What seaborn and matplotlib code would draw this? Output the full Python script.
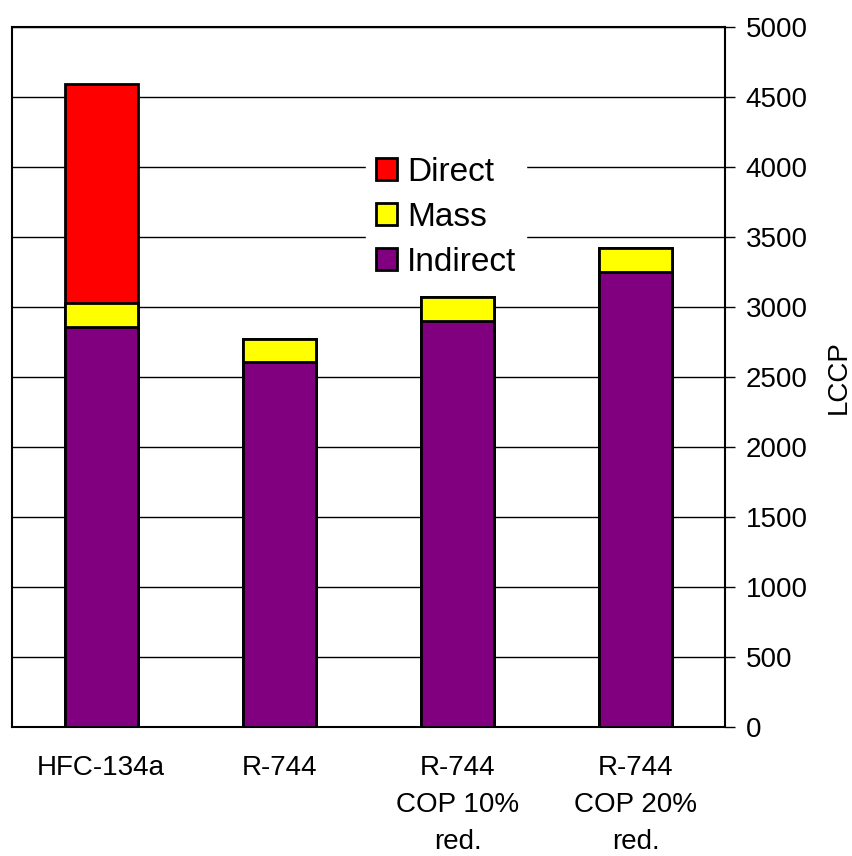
import matplotlib
matplotlib.use("Agg")
import matplotlib.pyplot as plt
import seaborn as sns
import pandas as pd
from matplotlib.patches import Patch

sns.set_style("white")
plt.rcParams["font.family"] = ["Liberation Sans", "DejaVu Sans"]
for k in ["text.color", "axes.labelcolor", "xtick.color", "ytick.color"]:
    plt.rcParams[k] = "black"

categories = ["HFC-134a", "R-744", "R-744\nCOP 10%\nred.", "R-744\nCOP 20%\nred."]
indirect = [2860, 2605, 2900, 3250]
mass = [167, 165, 170, 170]
direct = [1565, 0, 0, 0]

colors = {"Direct": "#FF0000", "Mass": "#FFFF00", "Indirect": "#800080"}

df = pd.DataFrame({"cat": categories, "Indirect": indirect, "Mass": mass, "Direct": direct})
df["lvl_mass"] = df["Indirect"] + df["Mass"]
df["lvl_direct"] = df["lvl_mass"] + df["Direct"]

fig = plt.figure(figsize=(8.52, 8.56), dpi=100)
ax = fig.add_axes([12 / 852, 1 - 727 / 856, (725 - 12) / 852, 700 / 856])

# stacked bars drawn back to front as cumulative totals
for col, name in [("lvl_direct", "Direct"), ("lvl_mass", "Mass"), ("Indirect", "Indirect")]:
    sns.barplot(data=df, x="cat", y=col, color=colors[name], saturation=1,
                width=0.41, edgecolor="black", linewidth=2, ax=ax, zorder=3)

ax.set_ylim(0, 5000)
ax.set_xlim(-0.5, 3.5)
ax.set_yticks(range(0, 5001, 500))
ax.yaxis.tick_right()
ax.yaxis.set_label_position("right")
ax.grid(axis="y", color="black", linewidth=1, zorder=0)
ax.set_axisbelow(True)
ax.set_ylabel("LCCP", fontsize=20, labelpad=13)
ax.set_xlabel("")
ax.tick_params(axis="y", direction="out", length=7, width=1, colors="black",
               labelsize=20, pad=8)

# category labels centered, ticks on category boundaries
ax.set_xticks(range(len(categories)))
ax.set_xticklabels(categories, fontsize=20, linespacing=1.55)
ax.tick_params(axis="x", length=0, pad=20)
ax.set_xticks([i - 0.5 for i in range(len(categories) + 1)], minor=True)
ax.tick_params(axis="x", which="minor", direction="out", length=5, width=1, color="black")

for s in ax.spines.values():
    s.set_visible(True)
    s.set_color("black")
    s.set_linewidth(1.5)

handles = [Patch(facecolor=colors[n], edgecolor="black", linewidth=2) for n in ["Direct", "Mass", "Indirect"]]
leg = ax.legend(handles, ["Direct", "Mass", "Indirect"], loc="upper left",
                bbox_to_anchor=(0.497, 0.829), frameon=True, fontsize=24,
                handlelength=0.62, handleheight=0.62, handletextpad=0.3,
                labelspacing=0.42, borderpad=0.3, borderaxespad=0, fancybox=False)
leg.get_frame().set_edgecolor("white")
leg.get_frame().set_facecolor("white")
leg.get_frame().set_alpha(1)
leg.set_zorder(5)

fig.savefig("out.png", dpi=100, facecolor="white")
